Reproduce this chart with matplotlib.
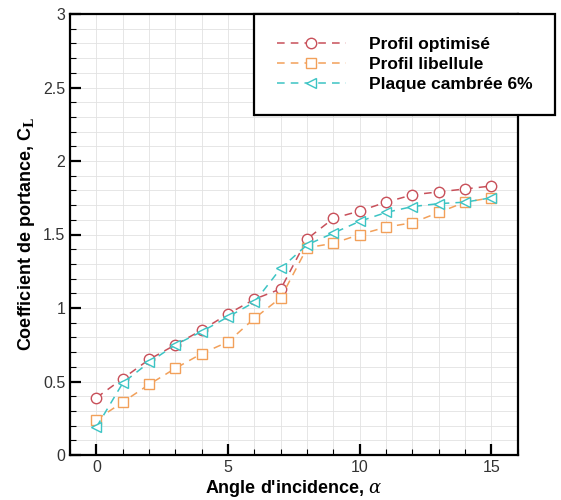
import matplotlib
matplotlib.use('Agg')
import matplotlib.pyplot as plt
from matplotlib.ticker import MultipleLocator, FuncFormatter

plt.rcParams['font.family'] = ['Liberation Sans', 'DejaVu Sans']
plt.rcParams['mathtext.fontset'] = 'dejavuserif'

# angle of attack (deg)
alpha = [0, 1, 2, 3, 4, 5, 6, 7, 8, 9, 10, 11, 12, 13, 14, 15]
cl_optimise = [0.39, 0.52, 0.65, 0.75, 0.85, 0.96, 1.06, 1.13, 1.47, 1.61, 1.66, 1.72, 1.77, 1.79, 1.81, 1.83]
cl_libellule = [0.24, 0.36, 0.48, 0.59, 0.69, 0.77, 0.93, 1.07, 1.41, 1.44, 1.50, 1.55, 1.58, 1.65, 1.72, 1.75]
cl_plaque = [0.19, 0.49, 0.63, 0.75, 0.84, 0.94, 1.04, 1.27, 1.43, 1.51, 1.59, 1.65, 1.69, 1.71, 1.72, 1.75]
labels = ['Profil optimisé', 'Profil libellule', 'Plaque cambrée 6%']

fig = plt.figure(figsize=(5.61, 5.0), dpi=100)
ax = fig.add_axes([0.125, 0.09, 0.798, 0.882])

ax.plot(alpha, cl_optimise, '--o', color='#c8505a', mfc='white', ms=7.5, lw=1.1,
        dashes=(5, 4), label=labels[0])
ax.plot(alpha, cl_libellule, '--s', color='#f2a05a', mfc='white', ms=7.5, lw=1.1,
        dashes=(5, 4), label=labels[1])
ax.plot(alpha, cl_plaque, '--<', color='#3cc4c4', mfc='white', ms=7.5, lw=1.1,
        dashes=(5, 4), label=labels[2])

ax.set_xlim(-1, 16)
ax.set_ylim(0, 3)
ax.xaxis.set_major_locator(MultipleLocator(5))
ax.xaxis.set_minor_locator(MultipleLocator(1))
ax.yaxis.set_major_locator(MultipleLocator(0.5))
ax.yaxis.set_minor_locator(MultipleLocator(0.1))
ax.yaxis.set_major_formatter(FuncFormatter(lambda v, p: f'{v:g}'))
ax.grid(which='both', color='#e2e2e2', lw=0.6)
ax.set_axisbelow(True)
ax.tick_params(which='major', direction='in', length=8, width=1.6, labelsize=11.5,
               labelcolor='#333333', top=False, right=False)
ax.tick_params(which='minor', direction='in', length=4, width=0.8, top=False, right=False)
for s in ax.spines.values():
    s.set_linewidth(1.6)

ax.set_xlabel(r"Angle d'incidence, $\alpha$", fontsize=13, fontweight='bold', labelpad=2)
ax.set_ylabel(r"Coefficient de portance, C$_\mathbf{L}$", fontsize=13, fontweight='bold')

leg = ax.legend(loc='upper right', bbox_to_anchor=(1.083, 1.0), borderaxespad=0,
                frameon=True, fancybox=False, framealpha=1, edgecolor='black',
                prop={'weight': 'bold', 'size': 12.5}, handlelength=4.0,
                borderpad=1.3, labelspacing=0.3, handletextpad=1.3)
leg.get_frame().set_linewidth(1.6)

fig.savefig('out.png', dpi=100)
